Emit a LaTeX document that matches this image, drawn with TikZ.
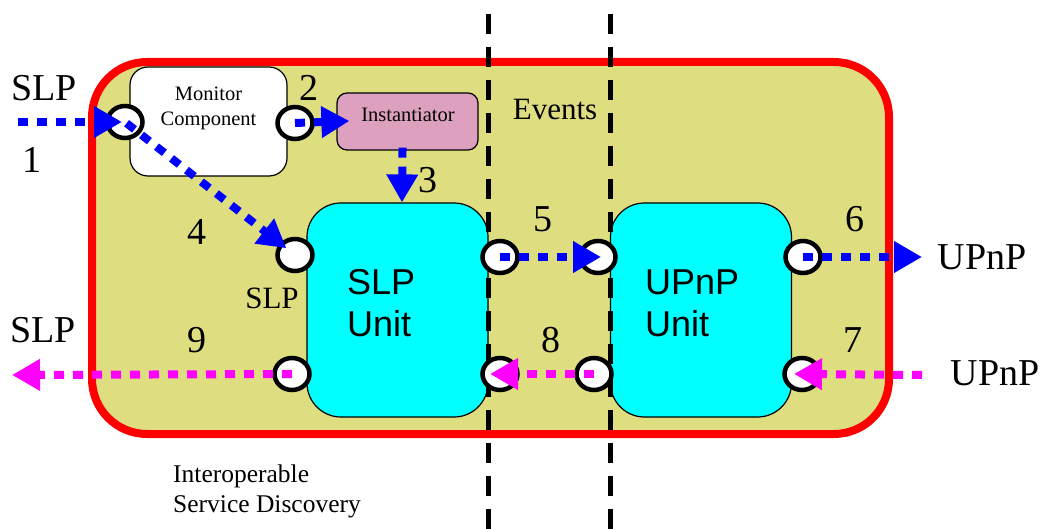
\documentclass[tikz,border=0pt]{standalone}
\usepackage{fontspec}
\setmainfont{Liberation Serif}
\newfontfamily\arialf{Liberation Sans}
\usetikzlibrary{arrows.meta,shapes.geometric}
\definecolor{khaki}{RGB}{222,221,128}
\definecolor{pinkbox}{RGB}{221,160,190}
\definecolor{cyanbox}{RGB}{0,255,255}
\definecolor{blueA}{RGB}{0,0,255}
\definecolor{magA}{RGB}{255,0,255}
\tikzset{
  port/.style={ellipse,draw=black,line width=4.5pt,fill=white,minimum width=35pt,minimum height=32pt,inner sep=0pt},
  unitbox/.style={draw=black,line width=1.2pt,fill=cyanbox,rounded corners=34pt,minimum width=181pt,minimum height=214pt,inner sep=0pt},
  flowA/.style={line width=8pt,dash pattern=on 10pt off 9pt,-{Triangle[length=28pt,width=30pt]}},
  blueflow/.style={flowA,draw=blueA},
  magflow/.style={flowA,draw=magA},
  lbl/.style={font=\fontsize{38}{40}\selectfont,inner sep=0pt},
  vline/.style={line width=5pt,dash pattern=on 20pt off 13pt},
}
\begin{document}
\begin{tikzpicture}[x=1pt,y=-1pt]
\useasboundingbox (0,0) rectangle (1043,529);
% container
\node[draw=red,line width=8pt,fill=khaki,rounded corners=55pt,minimum width=797pt,minimum height=372pt,inner sep=0pt] (cont) at (490.5,248) {};
% monitor & instantiator
\node[draw=black,line width=1.2pt,fill=white,rounded corners=18pt,minimum width=157pt,minimum height=109pt,inner sep=0pt] (mon) at (208.5,121.5) {};
\node[font=\fontsize{20.5}{25}\selectfont,align=center,inner sep=0pt] (montxt) at (208.5,108) {Monitor\\Component};
\node[draw=black,line width=1.2pt,fill=pinkbox,rounded corners=10pt,minimum width=141pt,minimum height=57pt,inner sep=0pt] (inst) at (407.5,121.5) {};
\node[font=\fontsize{20.5}{24}\selectfont,inner sep=0pt] (insttxt) at (408,115) {Instantiator};
% units
\node[unitbox] (slpu) at (397.5,310) {};
\node[unitbox] (upnpu) at (701,310) {};
\node[font=\arialf\fontsize{36}{42}\selectfont,align=left,inner sep=0pt,anchor=west] (slptxt) at (347,303) {SLP\\Unit};
\node[font=\arialf\fontsize{36}{42}\selectfont,align=left,inner sep=0pt,anchor=west] (upnptxt) at (645,303) {UPnP\\Unit};
% dashed lines
\coordinate (d1t) at (488,14); \coordinate (d1b) at (488,529);
\coordinate (d2t) at (610,14); \coordinate (d2b) at (610,529);
\draw[vline] (d1t) -- (d1b);
\draw[vline] (d2t) -- (d2b);
% ports
\node[port] (mL) at (125,122) {};
\node[port] (mR) at (295,123) {};
\node[port] (sL1) at (295,255) {};
\node[port] (sL2) at (292,374) {};
\node[port] (sR1) at (500,257) {};
\node[port] (sR2) at (500,374) {};
\node[port] (uL1) at (598,257) {};
\node[port] (uL2) at (594,374) {};
\node[port] (uR1) at (803,257) {};
\node[port] (uR2) at (802,374) {};
% free ends
\coordinate (in1) at (18,122);
\coordinate (out6) at (922,257);
\coordinate (in7) at (922,375);
\coordinate (out9) at (12,375);
% arrows
\draw[blueflow,shorten >=3pt] (in1) -- (mL.center);
\draw[blueflow] (mR.center) -- (inst.west) [shorten >=-13pt];
\draw[blueflow,shorten <=-3pt] ([xshift=-5pt]inst.south) -- ([xshift=4.5pt]slpu.north);
\draw[blueflow,shorten <=2pt,shorten >=11pt] (mL.center) -- (sL1.center);
\draw[blueflow,shorten >=-3pt] (sR1.center) -- (uL1.center);
\draw[blueflow] (uR1.center) -- (out6);
\draw[magflow,shorten >=-8pt] (in7) -- (uR2.center);
\draw[magflow,shorten >=-10pt] (uL2.center) -- (sR2.center);
\draw[magflow] (sL2.center) -- (out9);
% labels
\node[lbl] (tSLP1) at (44,88) {SLP};
\node[lbl] (t1) at (32,160) {1};
\node[lbl] (t2) at (309,88) {2};
\node[lbl] (t3) at (428,180) {3};
\node[lbl] (t4) at (197,232) {4};
\node[lbl] (t5) at (543,219) {5};
\node[lbl] (t6) at (855,219) {6};
\node[lbl] (t7) at (853,340) {7};
\node[lbl] (t8) at (551,340) {8};
\node[lbl] (t9) at (197,340) {9};
\node[lbl] (tSLP9) at (43,330) {SLP};
\node[lbl] (tU6) at (982,257) {UPnP};
\node[lbl] (tU7) at (995,373) {UPnP};
\node[font=\fontsize{31}{34}\selectfont,inner sep=0pt] (tSLPs) at (272,298) {SLP};
\node[font=\fontsize{31}{34}\selectfont,inner sep=0pt] (tEv) at (555,110) {Events};
\node[font=\fontsize{25.5}{30}\selectfont,align=left,anchor=west,inner sep=0pt] (tISD) at (173,491) {Interoperable\\Service Discovery};
\end{tikzpicture}
\end{document}
